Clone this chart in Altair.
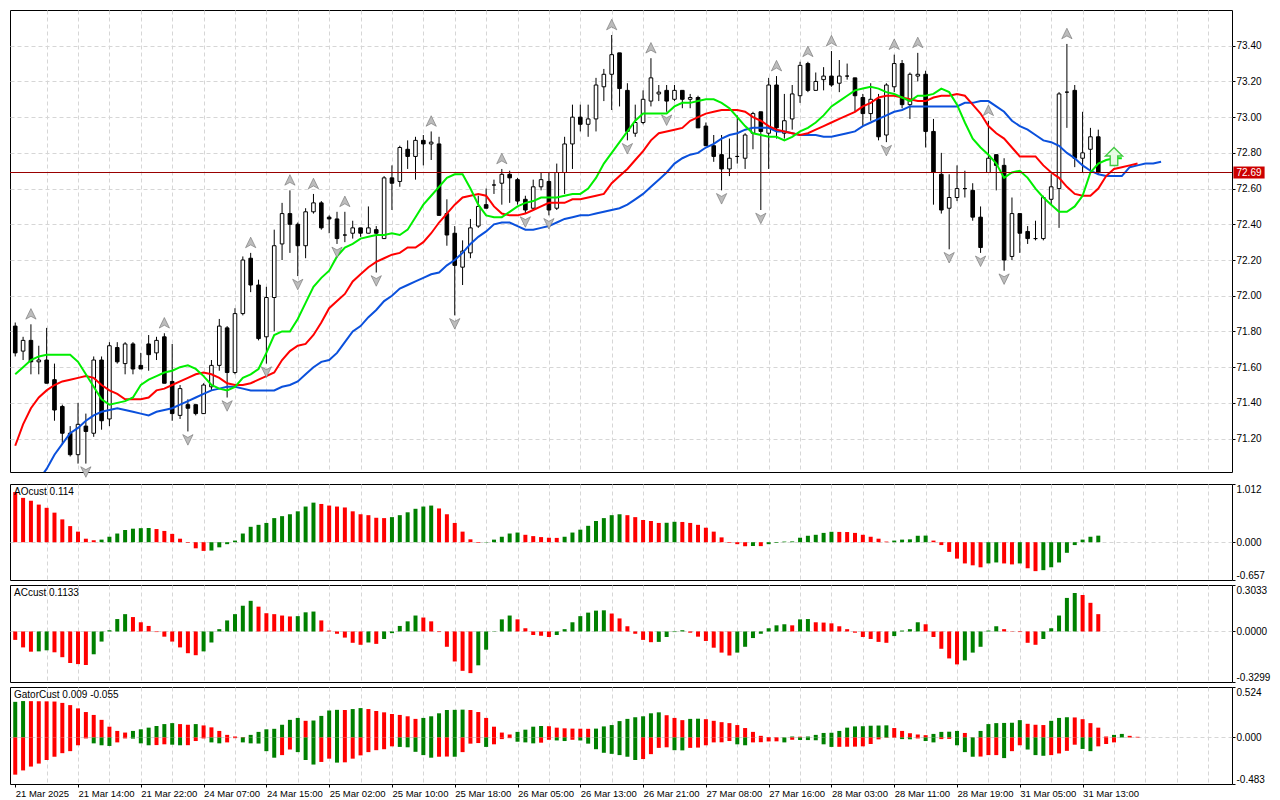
import json
import altair as alt
import pandas as pd

# ---------------- price bars (hourly, bar index 0..138) ----------------
opens = [71.83, 71.69, 71.75, 71.63, 71.64, 71.53, 71.38, 71.23, 71.11, 71.27,
         71.23, 71.64, 71.31, 71.71, 71.62, 71.73, 71.61, 71.73, 71.68, 71.77,
         71.52, 71.33, 71.39, 71.39, 71.34, 71.49, 71.61, 71.82, 71.57, 71.90,
         72.21, 72.06, 71.77, 71.99, 72.29, 72.46, 72.40, 72.28, 72.47, 72.52,
         72.44, 72.43, 72.34, 72.35, 72.38, 72.35, 72.37, 72.32, 72.66, 72.64,
         72.82, 72.78, 72.87, 72.85, 72.85, 72.46, 72.35, 72.16, 72.24, 72.39,
         72.51, 72.62, 72.63, 72.68, 72.65, 72.54, 72.49, 72.61, 72.64, 72.49,
         72.69, 72.85, 73.00, 72.96, 72.99, 73.17, 73.24, 73.36, 73.15, 72.91,
         72.97, 73.09, 73.13, 73.15, 73.10, 73.15, 73.10, 73.11, 72.95, 72.84,
         72.79, 72.71, 72.78, 72.77, 72.91, 73.03, 72.91, 73.18, 72.91, 72.99,
         73.12, 73.30, 73.15, 73.21, 73.23, 73.19, 73.23, 73.22, 73.11, 73.02,
         73.10, 72.90, 73.17, 73.30, 73.07, 73.23, 73.24, 72.92, 72.68, 72.49,
         72.55, 72.60, 72.59, 72.44, 72.69, 72.79, 72.73, 72.22, 72.46, 72.36,
         72.32, 72.32, 72.54, 72.60, 73.14, 73.15, 72.77, 72.82, 72.89]
highs = [71.85, 71.77, 71.84, 71.72, 71.82, 71.62, 71.39, 71.27, 71.40, 71.34,
         71.66, 71.66, 71.74, 71.74, 71.74, 71.74, 71.68, 71.78, 71.77, 71.79,
         71.73, 71.50, 71.42, 71.39, 71.51, 71.64, 71.87, 71.83, 71.93, 72.22,
         72.24, 72.09, 72.05, 72.37, 72.52, 72.59, 72.41, 72.49, 72.57, 72.53,
         72.45, 72.47, 72.47, 72.42, 72.38, 72.50, 72.39, 72.67, 72.73, 72.84,
         72.87, 72.89, 72.90, 72.92, 72.89, 72.54, 72.39, 72.31, 72.43, 72.56,
         72.60, 72.65, 72.71, 72.70, 72.66, 72.56, 72.65, 72.69, 72.69, 72.74,
         72.89, 73.07, 73.07, 73.07, 73.22, 73.27, 73.46, 73.36, 73.19, 73.07,
         73.15, 73.33, 73.18, 73.18, 73.18, 73.15, 73.13, 73.12, 72.97, 72.90,
         72.90, 72.88, 73.01, 72.91, 73.03, 73.03, 73.22, 73.23, 73.13, 73.18,
         73.31, 73.31, 73.25, 73.28, 73.37, 73.32, 73.30, 73.22, 73.13, 73.19,
         73.13, 73.19, 73.35, 73.32, 73.25, 73.36, 73.26, 72.99, 72.80, 72.68,
         72.73, 72.70, 72.63, 72.50, 72.98, 72.79, 72.77, 72.55, 72.46, 72.39,
         72.42, 72.56, 72.68, 73.14, 73.41, 73.18, 73.03, 72.94, 72.93]
lows = [71.66, 71.64, 71.56, 71.56, 71.51, 71.30, 71.17, 71.10, 71.06, 71.06,
        71.21, 71.25, 71.27, 71.62, 71.56, 71.56, 71.59, 71.58, 71.64, 71.51,
        71.30, 71.31, 71.24, 71.33, 71.34, 71.47, 71.58, 71.43, 71.56, 71.89,
        72.02, 71.75, 71.62, 71.80, 72.20, 72.24, 72.11, 72.21, 72.46, 72.37,
        72.35, 72.29, 72.30, 72.32, 72.33, 72.35, 72.13, 72.32, 72.48, 72.61,
        72.71, 72.65, 72.73, 72.76, 72.45, 72.28, 71.89, 72.06, 72.21, 72.38,
        72.49, 72.57, 72.51, 72.52, 72.51, 72.46, 72.48, 72.59, 72.45, 72.48,
        72.57, 72.71, 72.92, 72.89, 72.92, 73.09, 73.04, 73.06, 72.87, 72.89,
        72.96, 73.06, 73.09, 73.03, 73.09, 73.05, 73.05, 72.94, 72.84, 72.75,
        72.59, 72.67, 72.74, 72.71, 72.82, 72.48, 72.71, 72.88, 72.88, 72.93,
        73.08, 73.14, 73.15, 73.15, 73.17, 73.14, 73.21, 73.03, 72.95, 72.98,
        72.87, 72.86, 73.14, 73.05, 72.99, 73.20, 72.83, 72.51, 72.46, 72.26,
        72.53, 72.55, 72.42, 72.24, 72.69, 72.59, 72.14, 72.20, 72.24, 72.29,
        72.31, 72.31, 72.51, 72.38, 72.94, 72.72, 72.69, 72.69, 72.68]
closes = [71.68, 71.75, 71.63, 71.64, 71.51, 71.36, 71.23, 71.11, 71.28, 71.24,
          71.64, 71.30, 71.72, 71.63, 71.73, 71.59, 71.59, 71.67, 71.75, 71.51,
          71.34, 71.48, 71.37, 71.34, 71.50, 71.61, 71.83, 71.57, 71.90, 72.20,
          72.06, 71.76, 71.99, 72.28, 72.46, 72.40, 72.28, 72.47, 72.52, 72.38,
          72.43, 72.32, 72.34, 72.38, 72.35, 72.38, 72.35, 72.66, 72.63, 72.83,
          72.78, 72.87, 72.85, 72.86, 72.45, 72.34, 72.17, 72.25, 72.38, 72.50,
          72.49, 72.62, 72.68, 72.66, 72.53, 72.48, 72.61, 72.65, 72.48, 72.69,
          72.85, 73.00, 72.96, 72.99, 73.18, 73.24, 73.35, 73.16, 72.92, 72.97,
          73.10, 73.22, 73.14, 73.09, 73.15, 73.10, 73.11, 72.94, 72.84, 72.78,
          72.71, 72.77, 72.78, 72.90, 73.02, 72.92, 73.18, 72.94, 72.98, 73.13,
          73.29, 73.15, 73.20, 73.23, 73.18, 73.23, 73.23, 73.12, 73.02, 73.10,
          72.89, 73.18, 73.30, 73.07, 73.24, 73.24, 72.92, 72.69, 72.48, 72.55,
          72.60, 72.60, 72.44, 72.27, 72.77, 72.73, 72.20, 72.46, 72.35, 72.32,
          72.32, 72.55, 72.61, 73.13, 73.14, 72.77, 72.80, 72.89, 72.69]

# ---------------- Alligator lines (shifted forward) ----------------
lips = [71.56, 71.60, 71.64, 71.66, 71.67, 71.67, 71.67, 71.67, 71.63, 71.56,
        71.49, 71.42, 71.39, 71.40, 71.41, 71.43, 71.50, 71.53, 71.55, 71.57,
        71.58, 71.60, 71.61, 71.59, 71.55, 71.50, 71.48, 71.47, 71.49, 71.54,
        71.56, 71.59, 71.68, 71.78, 71.80, 71.80, 71.87, 71.96, 72.05, 72.10,
        72.14, 72.22, 72.27, 72.29, 72.32, 72.33, 72.34, 72.34, 72.35, 72.34,
        72.37, 72.44, 72.51, 72.56, 72.61, 72.66, 72.68, 72.68, 72.60, 72.51,
        72.45, 72.44, 72.44, 72.47, 72.50, 72.52, 72.53, 72.55, 72.55, 72.55,
        72.56, 72.57, 72.57, 72.60, 72.66, 72.74, 72.80, 72.86, 72.92, 72.98,
        73.02, 73.02, 73.02, 73.02, 73.06, 73.08, 73.08, 73.09, 73.10, 73.10,
        73.08, 73.05, 73.00, 72.95, 72.91, 72.90, 72.89, 72.89, 72.87, 72.89,
        72.92, 72.94, 72.97, 73.01, 73.06, 73.09, 73.12, 73.15, 73.16, 73.17,
        73.16, 73.14, 73.13, 73.11, 73.09, 73.12, 73.12, 73.13, 73.16, 73.14,
        73.07, 72.97, 72.88, 72.83, 72.79, 72.74, 72.66, 72.69, 72.70, 72.66,
        72.60, 72.55, 72.51, 72.47, 72.47, 72.50, 72.56, 72.69, 72.74, 72.76,
        72.77, 72.77]
teeth = [71.16, 71.28, 71.37, 71.43, 71.47, 71.50, 71.52, 71.53, 71.54, 71.55,
         71.54, 71.50, 71.47, 71.45, 71.42, 71.42, 71.42, 71.43, 71.47, 71.48,
         71.50, 71.52, 71.54, 71.56, 71.57, 71.56, 71.54, 71.51, 71.50, 71.50,
         71.51, 71.53, 71.55, 71.57, 71.64, 71.69, 71.72, 71.73, 71.78, 71.85,
         71.93, 71.97, 72.01, 72.08, 72.12, 72.16, 72.19, 72.21, 72.23, 72.24,
         72.27, 72.27, 72.30, 72.35, 72.41, 72.46, 72.51, 72.55, 72.56, 72.57,
         72.56, 72.50, 72.46, 72.45, 72.45, 72.46, 72.48, 72.50, 72.52, 72.52,
         72.52, 72.54, 72.54, 72.55, 72.56, 72.57, 72.63, 72.67, 72.71, 72.76,
         72.81, 72.87, 72.91, 72.92, 72.93, 72.94, 72.98, 73.00, 73.02, 73.03,
         73.04, 73.04, 73.04, 73.03, 73.00, 72.98, 72.95, 72.93, 72.92, 72.91,
         72.90, 72.91, 72.93, 72.95, 72.97, 72.99, 73.01, 73.03, 73.06, 73.08,
         73.11, 73.12, 73.12, 73.11, 73.10, 73.09, 73.09, 73.11, 73.12, 73.12,
         73.13, 73.12, 73.07, 73.02, 72.95, 72.91, 72.88, 72.83, 72.78, 72.78,
         72.78, 72.73, 72.69, 72.66, 72.61, 72.57, 72.56, 72.56, 72.60, 72.67,
         72.71, 72.72, 72.73, 72.74]
jaw_first_bar = 3
jaw = [70.97, 71.03, 71.11, 71.17, 71.23, 71.26, 71.30,
       71.33, 71.35, 71.36, 71.37, 71.36, 71.35, 71.34, 71.33, 71.35, 71.36,
       71.37, 71.39, 71.41, 71.43, 71.45, 71.47, 71.48, 71.49, 71.49, 71.48,
       71.47, 71.47, 71.47, 71.47, 71.49, 71.50, 71.52, 71.56, 71.60, 71.63,
       71.64, 71.68, 71.74, 71.80, 71.83, 71.88, 71.92, 71.97, 72.00, 72.04,
       72.06, 72.08, 72.10, 72.12, 72.13, 72.17, 72.20, 72.24, 72.29, 72.33,
       72.36, 72.40, 72.41, 72.41, 72.39, 72.37, 72.37, 72.38, 72.39, 72.41,
       72.43, 72.44, 72.45, 72.45, 72.46, 72.47, 72.48, 72.49, 72.51, 72.54,
       72.57, 72.61, 72.65, 72.69, 72.74, 72.77, 72.79, 72.80, 72.83, 72.85,
       72.88, 72.90, 72.91, 72.93, 72.94, 72.94, 72.94, 72.92, 72.92, 72.91,
       72.90, 72.90, 72.90, 72.89, 72.89, 72.90, 72.91, 72.92, 72.95, 72.97,
       72.99, 73.01, 73.03, 73.04, 73.06, 73.06, 73.06, 73.06, 73.06, 73.06,
       73.06, 73.08, 73.08, 73.09, 73.09, 73.06, 73.03, 72.98, 72.95, 72.93,
       72.90, 72.87, 72.86, 72.84, 72.80, 72.77, 72.73, 72.70, 72.68, 72.67,
       72.67, 72.67, 72.72, 72.73, 72.74, 72.74, 72.75]

# ---------------- Fractals & signal ----------------
fractal_up_bars = [2, 19, 30, 35, 38, 42, 53, 62, 76, 81, 97, 101, 104, 112, 115, 124, 134]
fractal_down_bars = [9, 22, 27, 32, 36, 41, 46, 56, 65, 68, 78, 83, 90, 95, 111, 119, 123, 126]
signal_bars = [140]
signal_prices = [72.78]
last_price = [72.69]

# ---------------- Oscillators ----------------
ao = [0.872, 0.771, 0.721, 0.654, 0.598, 0.514, 0.397, 0.280, 0.184, 0.061,
      0.034, 0.045, 0.095, 0.151, 0.212, 0.235, 0.244, 0.247, 0.229, 0.196,
      0.145, 0.061, -0.010, -0.106, -0.151, -0.145, -0.089, -0.034, 0.028, 0.151,
      0.268, 0.302, 0.335, 0.419, 0.453, 0.486, 0.537, 0.620, 0.688, 0.665,
      0.637, 0.620, 0.604, 0.537, 0.486, 0.470, 0.425, 0.419, 0.436, 0.470,
      0.520, 0.581, 0.620, 0.637, 0.587, 0.486, 0.335, 0.184, 0.050, -0.011,
      -0.006, 0.045, 0.095, 0.151, 0.168, 0.129, 0.106, 0.089, 0.078, 0.075,
      0.095, 0.168, 0.218, 0.285, 0.369, 0.419, 0.470, 0.486, 0.470, 0.436,
      0.386, 0.369, 0.335, 0.338, 0.355, 0.352, 0.335, 0.302, 0.252, 0.184,
      0.084, -0.011, -0.034, -0.070, -0.066, -0.068, -0.034, -0.011, 0.011, 0.014,
      0.078, 0.112, 0.129, 0.162, 0.181, 0.179, 0.177, 0.162, 0.129, 0.095,
      0.061, 0.011, 0.028, 0.045, 0.050, 0.112, 0.115, 0.028, -0.050, -0.168,
      -0.285, -0.369, -0.402, -0.436, -0.369, -0.352, -0.369, -0.386, -0.369, -0.453,
      -0.503, -0.486, -0.436, -0.352, -0.184, -0.050, 0.045, 0.095, 0.114]
ac = [-0.055, -0.104, -0.132, -0.130, -0.123, -0.136, -0.168, -0.206, -0.213, -0.219,
      -0.149, -0.066, 0.008, 0.081, 0.113, 0.094, 0.060, 0.036, -0.004, -0.034,
      -0.066, -0.104, -0.142, -0.155, -0.130, -0.072, 0.015, 0.072, 0.113, 0.168,
      0.200, 0.162, 0.119, 0.113, 0.104, 0.098, 0.100, 0.125, 0.130, 0.072,
      0.006, -0.015, -0.040, -0.074, -0.087, -0.072, -0.081, -0.049, -0.011, 0.036,
      0.066, 0.104, 0.091, 0.066, -0.004, -0.100, -0.196, -0.257, -0.272, -0.221,
      -0.119, 0.002, 0.079, 0.104, 0.079, 0.021, -0.023, -0.028, -0.036, -0.023,
      0.015, 0.060, 0.100, 0.123, 0.136, 0.138, 0.117, 0.085, 0.034, -0.015,
      -0.055, -0.070, -0.068, -0.036, -0.004, 0.008, -0.008, -0.034, -0.062, -0.106,
      -0.138, -0.157, -0.138, -0.100, -0.043, -0.015, 0.021, 0.040, 0.047, 0.040,
      0.079, 0.081, 0.060, 0.058, 0.053, 0.034, 0.015, -0.008, -0.036, -0.049,
      -0.068, -0.074, -0.030, 0.006, 0.015, 0.060, 0.047, -0.036, -0.113, -0.176,
      -0.215, -0.189, -0.138, -0.100, 0.006, 0.034, 0.015, -0.002, -0.004, -0.074,
      -0.087, -0.049, 0.021, 0.104, 0.219, 0.251, 0.238, 0.187, 0.113]
gator_upper = [0.370, 0.378, 0.377, 0.376, 0.375, 0.373, 0.359, 0.336, 0.302, 0.264,
               0.234, 0.183, 0.112, 0.068, 0.051, 0.068, 0.085, 0.102, 0.119, 0.139,
               0.149, 0.139, 0.132, 0.139, 0.125, 0.105, 0.068, 0.027, 0.010, 0.005,
               0.027, 0.058, 0.085, 0.090, 0.132, 0.183, 0.203, 0.173, 0.176, 0.224,
               0.280, 0.287, 0.285, 0.295, 0.305, 0.295, 0.275, 0.261, 0.244, 0.234,
               0.220, 0.193, 0.203, 0.220, 0.251, 0.285, 0.287, 0.289, 0.285, 0.264,
               0.203, 0.112, 0.051, 0.031, 0.058, 0.081, 0.112, 0.119, 0.117, 0.102,
               0.095, 0.092, 0.091, 0.090, 0.092, 0.115, 0.129, 0.170, 0.193, 0.210,
               0.220, 0.251, 0.261, 0.231, 0.203, 0.180, 0.193, 0.195, 0.190, 0.173,
               0.159, 0.149, 0.129, 0.098, 0.058, 0.017, 0.004, 0.002, 0.001, 0.010,
               0.008, 0.010, 0.027, 0.047, 0.049, 0.068, 0.102, 0.115, 0.117, 0.122,
               0.124, 0.126, 0.098, 0.068, 0.044, 0.031, 0.024, 0.037, 0.058, 0.060,
               0.068, 0.047, 0.002, 0.068, 0.139, 0.149, 0.151, 0.153, 0.180, 0.142,
               0.132, 0.129, 0.173, 0.203, 0.210, 0.208, 0.190, 0.149, 0.102, 0.010,
               0.027, 0.037, 0.017, 0.007]
gator_lower = [-0.386, -0.342, -0.302, -0.271, -0.234, -0.200, -0.163, -0.142, -0.081, -0.010,
               -0.061, -0.081, -0.088, -0.051, -0.010, -0.012, -0.061, -0.081, -0.079, -0.071,
               -0.075, -0.081, -0.080, -0.037, -0.010, -0.051, -0.061, -0.051, -0.007, -0.051,
               -0.061, -0.063, -0.142, -0.210, -0.183, -0.125, -0.152, -0.234, -0.281, -0.254,
               -0.220, -0.261, -0.258, -0.220, -0.186, -0.152, -0.132, -0.122, -0.092, -0.098,
               -0.102, -0.149, -0.183, -0.210, -0.200, -0.198, -0.200, -0.152, -0.064, -0.058,
               -0.098, -0.071, -0.017, -0.007, -0.044, -0.051, -0.061, -0.054, -0.024, -0.031,
               -0.037, -0.024, -0.031, -0.064, -0.122, -0.159, -0.170, -0.183, -0.200, -0.234,
               -0.224, -0.173, -0.108, -0.102, -0.132, -0.134, -0.108, -0.105, -0.081, -0.051,
               -0.050, -0.037, -0.071, -0.081, -0.051, -0.049, -0.041, -0.040, -0.051, -0.024,
               -0.026, -0.027, -0.029, -0.071, -0.098, -0.097, -0.096, -0.095, -0.092, -0.068,
               -0.020, -0.003, -0.002, -0.017, -0.019, -0.010, -0.037, -0.051, -0.017, -0.015,
               -0.081, -0.152, -0.200, -0.198, -0.183, -0.183, -0.214, -0.142, -0.081, -0.125,
               -0.183, -0.190, -0.183, -0.166, -0.139, -0.075, -0.119, -0.142, -0.092, -0.068,
               -0.051]

panel_titles = ["AOcust 0.114", "ACcust 0.1133", "GatorCust 0.009 -0.055"]

tick_labels = ["21 Mar 2025", "21 Mar 14:00", "21 Mar 22:00", "24 Mar 07:00", "24 Mar 15:00",
               "25 Mar 02:00", "25 Mar 10:00", "25 Mar 18:00", "26 Mar 05:00", "26 Mar 13:00",
               "26 Mar 21:00", "27 Mar 08:00", "27 Mar 16:00", "28 Mar 03:00", "28 Mar 11:00",
               "28 Mar 19:00", "31 Mar 05:00", "31 Mar 13:00"]
price_ticks = [71.2, 71.4, 71.6, 71.8, 72.0, 72.2, 72.4, 72.6, 72.8, 73.0, 73.2, 73.4]
ao_ticks = [-0.657, 0.0, 1.012]
ac_ticks = [-0.3299, 0.0, 0.3033]
gator_ticks = [-0.483, 0.0, 0.524]

# ---------------- layout / style ----------------
PLOT_W = 1222
MAIN_H = 462
AO_H = 96
SUB_H = 97
X_DOMAIN = [-0.03, 154.4]
PRICE_DOMAIN = [71.013, 73.60]
FONT = "Liberation Sans"
FS = 10
FS_X = 9.5
GRID_C = "#d6d6d6"
DASH = [4, 3]
GREEN_H = "#008000"
RED_H = "#ff0000"
BAR_W = 4

xscale = alt.Scale(domain=X_DOMAIN, nice=False, zero=False)
grid_vals = list(range(4, 156, 4))
all_vals = list(range(0, 156, 4))

grid_axis = alt.Axis(values=grid_vals, grid=True, gridDash=DASH, gridColor=GRID_C,
                     labels=False, ticks=False, domain=False, title=None)

label_js = json.dumps(tick_labels)
n_lab = len(tick_labels)
bottom_axis = alt.Axis(
    values=all_vals, grid=True, gridDash=DASH, gridColor=GRID_C,
    gridOpacity={"condition": {"test": "datum.value > 0", "value": 1}, "value": 0},
    domain=False, ticks=True, tickSize=3, tickColor="black",
    tickOpacity={"condition": {"test": f"datum.value % 8 === 0 && datum.value / 8 < {n_lab}", "value": 1}, "value": 0},
    labelExpr=f"(datum.value % 8 === 0 && datum.value / 8 < {n_lab}) ? {label_js}[datum.value / 8] : ''",
    labelAlign="left", labelOffset=0, labelPadding=1, labelOverlap=False, labelFlush=False,
    labelFont=FONT, labelFontSize=FS_X, labelColor="black", title=None)


def xenc(axis):
    return alt.X("bar:Q", scale=xscale, axis=axis)


def side_axis(vals, fmt, flush=True, grid_zero_only=True):
    kw = dict(orient="right", values=vals,
              labelExpr=f"replace(format(datum.value, '{fmt}'), '\u2212', '-')",
              grid=True, gridDash=DASH, gridColor=GRID_C,
              tickSize=3, tickColor="black", labelPadding=1, labelFlush=flush,
              domain=False, title=None, labelFont=FONT, labelFontSize=FS, labelColor="black")
    if grid_zero_only:
        kw["gridOpacity"] = {"condition": {"test": "datum.value === 0", "value": 1}, "value": 0}
    return alt.Axis(**kw)


# ---------------- main panel ----------------
n = len(opens)
cdf = pd.DataFrame({"bar": list(range(n)), "open": opens, "high": highs, "low": lows, "close": closes})
cdf["kind"] = ["bear" if c < o else "bull" for o, c in zip(opens, closes)]

pscale = alt.Scale(domain=PRICE_DOMAIN, nice=False, zero=False)
price_axis = side_axis(price_ticks, ".2f", flush=False, grid_zero_only=False)


def yp(field):
    return alt.Y(field, type="quantitative", scale=pscale, axis=price_axis)


base = alt.Chart(cdf)
wicks = base.mark_rule(color="black", strokeWidth=1, clip=True).encode(
    x=xenc(grid_axis), y=yp("low"), y2="high:Q")
bodies = base.mark_bar(width=3.6, stroke="black", strokeWidth=1, clip=True).encode(
    x=xenc(grid_axis), y=yp("open"), y2="close:Q",
    fill=alt.Fill("kind:N", scale=alt.Scale(domain=["bull", "bear"], range=["white", "black"]), legend=None))

jaw_df = pd.DataFrame({"bar": list(range(jaw_first_bar, jaw_first_bar + len(jaw))), "v": jaw})
teeth_df = pd.DataFrame({"bar": list(range(len(teeth))), "v": teeth})
lips_df = pd.DataFrame({"bar": list(range(len(lips))), "v": lips})
jaw_l = alt.Chart(jaw_df).mark_line(color="#0a50dc", strokeWidth=2, clip=True).encode(x=xenc(grid_axis), y=yp("v"))
teeth_l = alt.Chart(teeth_df).mark_line(color="#ff0000", strokeWidth=2, clip=True).encode(x=xenc(grid_axis), y=yp("v"))
lips_l = alt.Chart(lips_df).mark_line(color="#00ee00", strokeWidth=2, clip=True).encode(x=xenc(grid_axis), y=yp("v"))

UP_PATH = "M0,-1L0.9,0.85L0,0.35L-0.9,0.85Z"
DOWN_PATH = "M0,1L0.9,-0.85L0,-0.35L-0.9,-0.85Z"
fu_df = pd.DataFrame({"bar": fractal_up_bars, "p": [highs[b] for b in fractal_up_bars]})
fd_df = pd.DataFrame({"bar": fractal_down_bars, "p": [lows[b] for b in fractal_down_bars]})
frac_up = alt.Chart(fu_df).mark_point(shape=UP_PATH, size=130, filled=True, fill="#bcbcbc",
                                      stroke="#6f6f6f", strokeWidth=0.6, opacity=1, yOffset=-10).encode(
    x=xenc(grid_axis), y=yp("p"))
frac_dn = alt.Chart(fd_df).mark_point(shape=DOWN_PATH, size=130, filled=True, fill="#bcbcbc",
                                      stroke="#6f6f6f", strokeWidth=0.6, opacity=1, yOffset=8).encode(
    x=xenc(grid_axis), y=yp("p"))

SIG_PATH = "M0,-1L0.95,-0.05L0.42,-0.05L0.42,1L-0.42,1L-0.42,-0.05L-0.95,-0.05Z"
sig_df = pd.DataFrame({"bar": signal_bars, "p": signal_prices})
signal = alt.Chart(sig_df).mark_point(shape=SIG_PATH, size=324, filled=True, fill="#e8fbe4",
                                      stroke="#44c944", strokeWidth=1.4, opacity=1).encode(
    x=xenc(grid_axis), y=yp("p"))

lp_df = pd.DataFrame({"p": last_price, "t": [f"{v:.2f}" for v in last_price]})
price_line = alt.Chart(lp_df).mark_rule(color="#990000", strokeWidth=1).encode(y=yp("p"))
BOX_PATH = "M-2.6,-1L2.6,-1L2.6,1L-2.6,1Z"
price_box = alt.Chart(lp_df).mark_point(shape=BOX_PATH, size=144, filled=True, fill="#cc0000",
                                        strokeWidth=0, opacity=1).encode(
    x=alt.value(PLOT_W + 17), y=yp("p"))
price_txt = alt.Chart(lp_df).mark_text(color="white", font=FONT, fontSize=FS, align="center",
                                       baseline="middle").encode(
    x=alt.value(PLOT_W + 17), y=yp("p"), text="t:N")

main = alt.layer(wicks, bodies, jaw_l, teeth_l, lips_l, frac_up, frac_dn, signal,
                 price_line, price_box, price_txt).properties(width=PLOT_W, height=MAIN_H)


# ---------------- oscillator panels ----------------
def dirs(vals, first, use_abs=False):
    out = [first]
    for a, b in zip(vals[:-1], vals[1:]):
        if use_abs:
            a, b = abs(a), abs(b)
        out.append("up" if b > a else "down")
    return out


dir_scale = alt.Scale(domain=["up", "down"], range=[GREEN_H, RED_H])


def hist_layer(vals, first, yscale, yaxis, use_abs=False, xaxis=None):
    df = pd.DataFrame({"bar": list(range(len(vals))), "value": vals,
                       "dir": dirs(vals, first, use_abs)})
    return alt.Chart(df).mark_bar(width=BAR_W, clip=True).encode(
        x=xenc(xaxis if xaxis is not None else grid_axis),
        y=alt.Y("value:Q", scale=yscale, axis=yaxis),
        y2=alt.datum(0),
        color=alt.Color("dir:N", scale=dir_scale, legend=None))


def title_layer(text):
    return alt.Chart(pd.DataFrame({"t": [text]})).mark_text(
        align="left", baseline="top", font=FONT, fontSize=FS, color="black").encode(
        x=alt.value(4), y=alt.value(3), text="t:N")


ao_scale = alt.Scale(domain=[ao_ticks[0], ao_ticks[-1]], nice=False, zero=False)
ao_axis = side_axis(ao_ticks, ".3f")
ao_chart = alt.layer(hist_layer(ao, "down", ao_scale, ao_axis),
                     title_layer(panel_titles[0])).properties(width=PLOT_W, height=AO_H)

ac_scale = alt.Scale(domain=[ac_ticks[0], ac_ticks[-1]], nice=False, zero=False)
ac_axis = side_axis(ac_ticks, ".4f")
ac_chart = alt.layer(hist_layer(ac, "down", ac_scale, ac_axis),
                     title_layer(panel_titles[1])).properties(width=PLOT_W, height=SUB_H)

g_scale = alt.Scale(domain=[gator_ticks[0], gator_ticks[-1]], nice=False, zero=False)
g_axis = side_axis(gator_ticks, ".3f")
gator_chart = alt.layer(
    hist_layer(gator_upper, "up", g_scale, g_axis, use_abs=True, xaxis=bottom_axis),
    hist_layer(gator_lower, "down", g_scale, g_axis, use_abs=True, xaxis=bottom_axis),
    title_layer(panel_titles[2])).properties(width=PLOT_W, height=SUB_H)

chart = alt.vconcat(main, ao_chart, ac_chart, gator_chart, spacing=3).properties(
    padding={"left": 1, "top": 1, "right": 1, "bottom": 1}, background="white"
).configure_view(stroke="black", strokeWidth=1).configure_axis(
    labelFont=FONT, labelFontSize=FS, labelColor="black")

chart.save("out.html", embed_options={"renderer": "svg", "actions": False})
